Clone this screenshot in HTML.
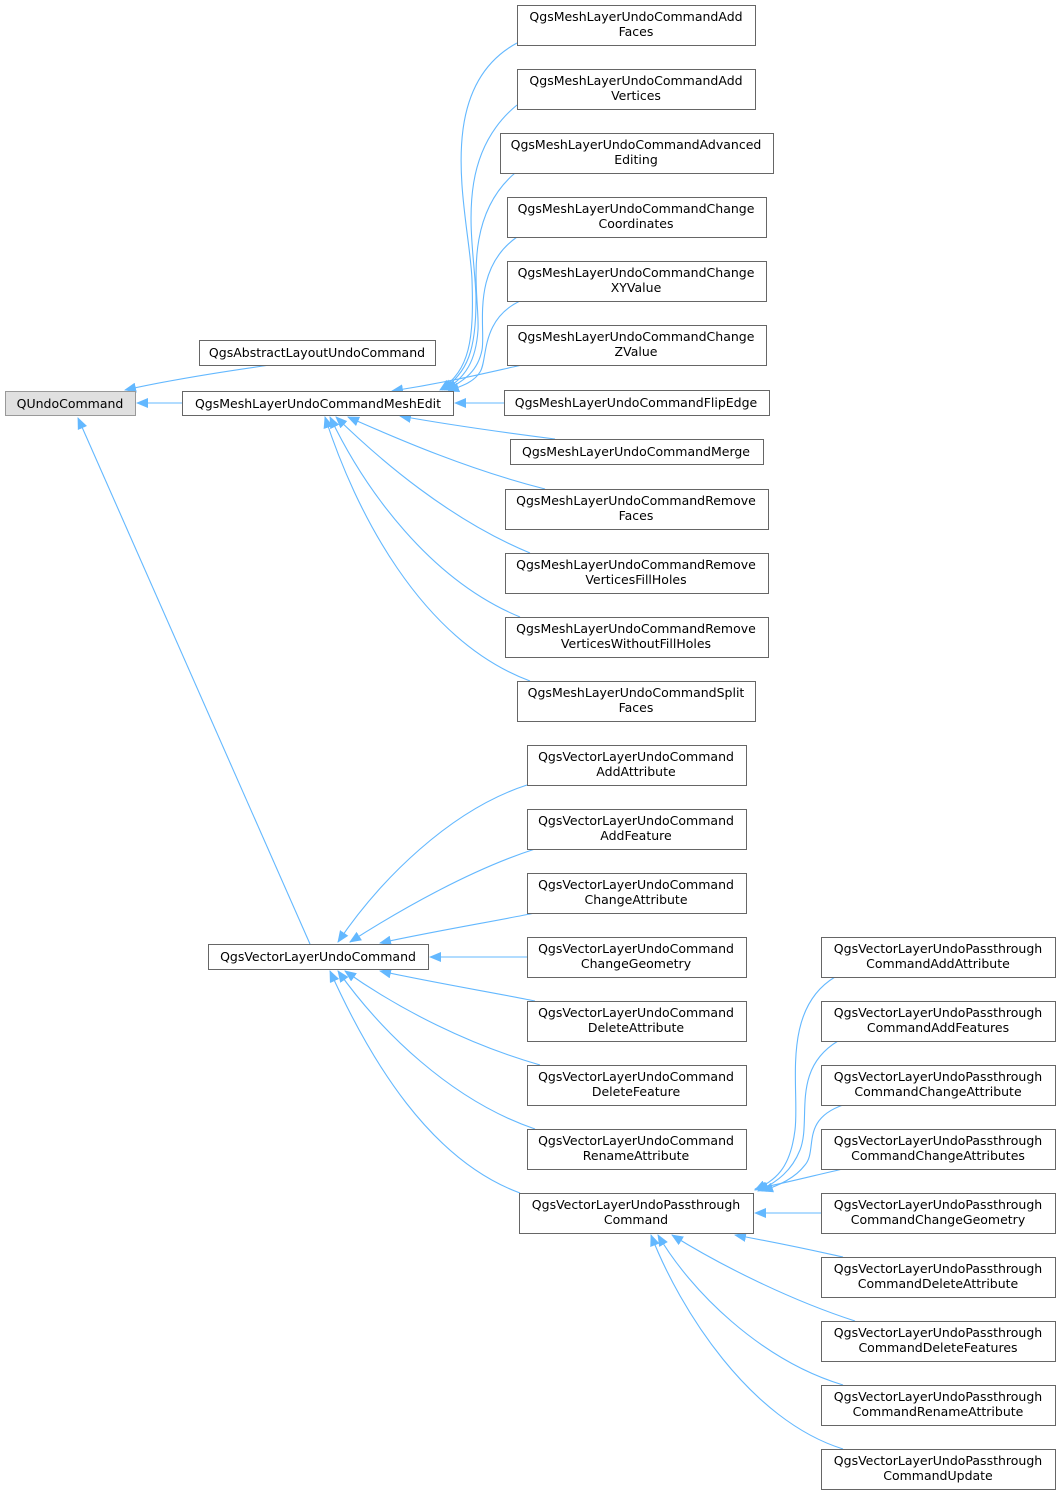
<!DOCTYPE html>
<html><head><meta charset="utf-8"><style>
html,body{margin:0;padding:0;background:#fff;}
svg text{font-family:"DejaVu Sans","Liberation Sans",sans-serif;font-size:12.5px;fill:#000;}
</style></head><body>
<svg width="1060" height="1495" viewBox="0 0 1060 1495" xmlns="http://www.w3.org/2000/svg">
<defs>
<marker id="a" viewBox="0 0 12 10" refX="11" refY="5" markerWidth="12" markerHeight="10" markerUnits="userSpaceOnUse" orient="auto-start-reverse">
<path d="M0,0 L12,5 L0,10 z" fill="#63b8ff"/></marker>
</defs>
<g fill="none" stroke="#63b8ff" stroke-width="1.1">
<path d="M270,365 C220,372 170,380 125,390" marker-end="url(#a)"/>
<path d="M182,403 L137,403" marker-end="url(#a)"/>
<path d="M310,944 L78,418" marker-end="url(#a)"/>
<path d="M517,43 C430,90 470,220 472,280 C474,340 470,370 440,390" marker-end="url(#a)"/>
<path d="M517,105 C450,160 476,250 476,300 C476,350 468,372 442,390" marker-end="url(#a)"/>
<path d="M515,173 C460,220 480,300 478,330 C476,360 466,378 444,390" marker-end="url(#a)"/>
<path d="M517,237 C470,270 486,330 482,350 C478,370 466,380 446,390" marker-end="url(#a)"/>
<path d="M520,301 C480,320 488,360 480,372 C474,382 462,386 448,391" marker-end="url(#a)"/>
<path d="M522,365 C490,372 450,382 392,391" marker-end="url(#a)"/>
<path d="M504,403 L455,403" marker-end="url(#a)"/>
<path d="M555,439 C500,432 450,425 400,416" marker-end="url(#a)"/>
<path d="M545,489 C470,470 400,440 348,417" marker-end="url(#a)"/>
<path d="M530,553 C450,520 380,460 336,417" marker-end="url(#a)"/>
<path d="M520,617 C430,580 365,490 330,417" marker-end="url(#a)"/>
<path d="M530,681 C420,640 355,510 325,417" marker-end="url(#a)"/>
<path d="M527,785 C450,810 380,880 338,942" marker-end="url(#a)"/>
<path d="M535,849 C470,870 400,910 350,942" marker-end="url(#a)"/>
<path d="M535,913 C490,922 430,932 380,943" marker-end="url(#a)"/>
<path d="M527,957 L430,957" marker-end="url(#a)"/>
<path d="M535,1001 C490,992 430,982 380,971" marker-end="url(#a)"/>
<path d="M540,1065 C470,1045 400,1010 345,971" marker-end="url(#a)"/>
<path d="M535,1129 C450,1100 380,1030 338,971" marker-end="url(#a)"/>
<path d="M520,1193 C430,1160 370,1060 330,971" marker-end="url(#a)"/>
<path d="M835,977 C780,1010 800,1090 795,1130 C790,1170 775,1180 755,1190" marker-end="url(#a)"/>
<path d="M838,1041 C790,1070 812,1120 800,1150 C792,1170 778,1182 758,1191" marker-end="url(#a)"/>
<path d="M843,1105 C800,1120 818,1150 805,1165 C795,1178 780,1185 762,1191" marker-end="url(#a)"/>
<path d="M843,1169 C820,1174 790,1182 755,1189" marker-end="url(#a)"/>
<path d="M821,1213 L755,1213" marker-end="url(#a)"/>
<path d="M843,1257 C820,1252 790,1245 735,1235" marker-end="url(#a)"/>
<path d="M855,1321 C790,1300 720,1265 672,1235" marker-end="url(#a)"/>
<path d="M843,1385 C760,1360 690,1290 658,1235" marker-end="url(#a)"/>
<path d="M843,1449 C750,1420 680,1310 651,1235" marker-end="url(#a)"/>
</g>
<g stroke="#666" stroke-width="1" fill="#fff">
<rect x="5.5" y="391.5" width="130" height="24" fill="#e0e0e0" stroke="#999"/>
<rect x="199.5" y="340.5" width="236" height="25"/>
<rect x="182.5" y="391.5" width="271" height="24"/>
<rect x="517.5" y="5.5" width="238" height="40"/>
<rect x="517.5" y="69.5" width="238" height="40"/>
<rect x="500.5" y="133.5" width="273" height="40"/>
<rect x="507.5" y="197.5" width="259" height="40"/>
<rect x="507.5" y="261.5" width="259" height="40"/>
<rect x="507.5" y="325.5" width="259" height="40"/>
<rect x="504.5" y="390.5" width="265" height="25"/>
<rect x="510.5" y="439.5" width="253" height="25"/>
<rect x="505.5" y="489.5" width="263" height="40"/>
<rect x="505.5" y="553.5" width="263" height="40"/>
<rect x="505.5" y="617.5" width="263" height="40"/>
<rect x="517.5" y="681.5" width="238" height="40"/>
<rect x="208.5" y="944.5" width="220" height="25"/>
<rect x="527.5" y="745.5" width="219" height="40"/>
<rect x="527.5" y="809.5" width="219" height="40"/>
<rect x="527.5" y="873.5" width="219" height="40"/>
<rect x="527.5" y="937.5" width="219" height="40"/>
<rect x="527.5" y="1001.5" width="219" height="40"/>
<rect x="527.5" y="1065.5" width="219" height="40"/>
<rect x="527.5" y="1129.5" width="219" height="40"/>
<rect x="519.5" y="1193.5" width="234" height="40"/>
<rect x="821.5" y="937.5" width="234" height="40"/>
<rect x="821.5" y="1001.5" width="234" height="40"/>
<rect x="821.5" y="1065.5" width="234" height="40"/>
<rect x="821.5" y="1129.5" width="234" height="40"/>
<rect x="821.5" y="1193.5" width="234" height="40"/>
<rect x="821.5" y="1257.5" width="234" height="40"/>
<rect x="821.5" y="1321.5" width="234" height="40"/>
<rect x="821.5" y="1385.5" width="234" height="40"/>
<rect x="821.5" y="1449.5" width="234" height="40"/>
</g>
<g text-anchor="middle">
<text x="70" y="408">QUndoCommand</text>
<text x="317" y="357">QgsAbstractLayoutUndoCommand</text>
<text x="318" y="408">QgsMeshLayerUndoCommandMeshEdit</text>
<text x="636" y="21">QgsMeshLayerUndoCommandAdd</text><text x="636" y="36">Faces</text>
<text x="636" y="85">QgsMeshLayerUndoCommandAdd</text><text x="636" y="100">Vertices</text>
<text x="636" y="149">QgsMeshLayerUndoCommandAdvanced</text><text x="636" y="164">Editing</text>
<text x="636" y="213">QgsMeshLayerUndoCommandChange</text><text x="636" y="228">Coordinates</text>
<text x="636" y="277">QgsMeshLayerUndoCommandChange</text><text x="636" y="292">XYValue</text>
<text x="636" y="341">QgsMeshLayerUndoCommandChange</text><text x="636" y="356">ZValue</text>
<text x="636" y="407">QgsMeshLayerUndoCommandFlipEdge</text>
<text x="636" y="456">QgsMeshLayerUndoCommandMerge</text>
<text x="636" y="505">QgsMeshLayerUndoCommandRemove</text><text x="636" y="520">Faces</text>
<text x="636" y="569">QgsMeshLayerUndoCommandRemove</text><text x="636" y="584">VerticesFillHoles</text>
<text x="636" y="633">QgsMeshLayerUndoCommandRemove</text><text x="636" y="648">VerticesWithoutFillHoles</text>
<text x="636" y="697">QgsMeshLayerUndoCommandSplit</text><text x="636" y="712">Faces</text>
<text x="318" y="961">QgsVectorLayerUndoCommand</text>
<text x="636" y="761">QgsVectorLayerUndoCommand</text><text x="636" y="776">AddAttribute</text>
<text x="636" y="825">QgsVectorLayerUndoCommand</text><text x="636" y="840">AddFeature</text>
<text x="636" y="889">QgsVectorLayerUndoCommand</text><text x="636" y="904">ChangeAttribute</text>
<text x="636" y="953">QgsVectorLayerUndoCommand</text><text x="636" y="968">ChangeGeometry</text>
<text x="636" y="1017">QgsVectorLayerUndoCommand</text><text x="636" y="1032">DeleteAttribute</text>
<text x="636" y="1081">QgsVectorLayerUndoCommand</text><text x="636" y="1096">DeleteFeature</text>
<text x="636" y="1145">QgsVectorLayerUndoCommand</text><text x="636" y="1160">RenameAttribute</text>
<text x="636" y="1209">QgsVectorLayerUndoPassthrough</text><text x="636" y="1224">Command</text>
<text x="938" y="953">QgsVectorLayerUndoPassthrough</text><text x="938" y="968">CommandAddAttribute</text>
<text x="938" y="1017">QgsVectorLayerUndoPassthrough</text><text x="938" y="1032">CommandAddFeatures</text>
<text x="938" y="1081">QgsVectorLayerUndoPassthrough</text><text x="938" y="1096">CommandChangeAttribute</text>
<text x="938" y="1145">QgsVectorLayerUndoPassthrough</text><text x="938" y="1160">CommandChangeAttributes</text>
<text x="938" y="1209">QgsVectorLayerUndoPassthrough</text><text x="938" y="1224">CommandChangeGeometry</text>
<text x="938" y="1273">QgsVectorLayerUndoPassthrough</text><text x="938" y="1288">CommandDeleteAttribute</text>
<text x="938" y="1337">QgsVectorLayerUndoPassthrough</text><text x="938" y="1352">CommandDeleteFeatures</text>
<text x="938" y="1401">QgsVectorLayerUndoPassthrough</text><text x="938" y="1416">CommandRenameAttribute</text>
<text x="938" y="1465">QgsVectorLayerUndoPassthrough</text><text x="938" y="1480">CommandUpdate</text>
</g>
</svg>
</body></html>
